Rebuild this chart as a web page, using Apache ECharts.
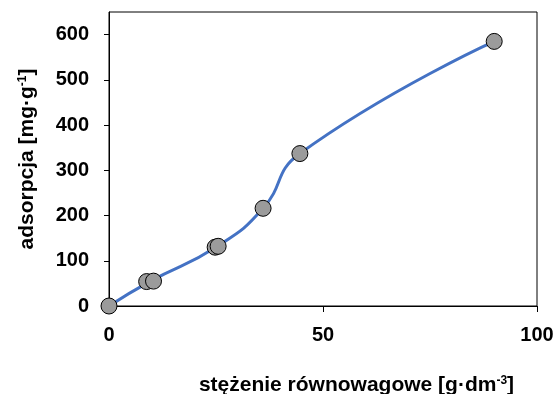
<!DOCTYPE html>
<html>
<head>
<meta charset="utf-8">
<script src="https://cdn.jsdelivr.net/npm/echarts@6/dist/echarts.min.js"></script>
<style>
  html, body { margin: 0; padding: 0; background: #fff; }
  #chart { width: 558px; height: 394px; }
</style>
</head>
<body>
<div id="chart"></div>
<script>
// Equilibrium concentration [g/dm3] and adsorption [mg/g]
const concentration = [0, 8.8, 10.4, 24.8, 25.5, 36.0, 44.6, 90];
const adsorption = [0, 54, 55, 130, 132, 216, 337, 585];
const yTickValues = [0, 100, 200, 300, 400, 500, 600];

const points = concentration.map((c, i) => [c, adsorption[i]]);

// The trend line runs through the measurements; repeated measurements at
// almost the same concentration are averaged so the spline stays smooth.
function mergeClose(pts, tol) {
  const out = [];
  let group = [pts[0]];
  for (let i = 1; i < pts.length; i++) {
    if (pts[i][0] - group[0][0] < tol) {
      group.push(pts[i]);
    } else {
      out.push(avg(group));
      group = [pts[i]];
    }
  }
  out.push(avg(group));
  return out;
}
function avg(g) {
  const n = g.length;
  return [g.reduce((s, p) => s + p[0], 0) / n, g.reduce((s, p) => s + p[1], 0) / n];
}
const trend = mergeClose(points, 2.5);

const font = 'Liberation Sans, Arial, sans-serif';
const supStyle = {
  fontFamily: font, fontSize: 12, fontWeight: 'bold', color: '#000',
  verticalAlign: 'top', padding: [0, 0, 7, 0]
};

const chart = echarts.init(document.getElementById('chart'));
chart.setOption({
  animation: false,
  grid: {
    left: 109, top: 12, right: 21, bottom: 88,
    outerBoundsMode: 'none', containLabel: false,
    show: true, borderColor: '#000', borderWidth: 1, backgroundColor: 'transparent'
  },
  xAxis: {
    type: 'value', min: 0, max: 100, interval: 50,
    name: 'stężenie równowagowe [g·dm{sup|-3}]',
    nameLocation: 'middle', nameGap: 69,
    nameTextStyle: {
      fontFamily: font, fontSize: 21, fontWeight: 'bold', color: '#000',
      padding: [0, 0, 0, 67],
      rich: { sup: supStyle }
    },
    axisLine: { show: true, lineStyle: { color: '#000', width: 1 } },
    axisTick: { show: true, length: 6, lineStyle: { color: '#000' } },
    axisLabel: { margin: 19, fontFamily: font, fontSize: 20, fontWeight: 'bold', color: '#000' },
    splitLine: { show: false }
  },
  yAxis: {
    type: 'value', min: 0, max: 650, interval: 100,
    name: 'adsorpcja [mg·g{sup|-1}]',
    nameLocation: 'middle', nameGap: 71,
    nameTextStyle: {
      fontFamily: font, fontSize: 21, fontWeight: 'bold', color: '#000',
      rich: { sup: supStyle }
    },
    axisLine: { show: true, lineStyle: { color: '#000', width: 1 } },
    axisTick: { show: true, length: 5, inside: false, customValues: yTickValues, lineStyle: { color: '#000' } },
    axisLabel: { margin: 20, customValues: yTickValues, fontFamily: font, fontSize: 20, fontWeight: 'bold', color: '#000' },
    splitLine: { show: false }
  },
  series: [
    {
      type: 'line', data: trend, smooth: 0.5, showSymbol: false,
      lineStyle: { color: '#4472C4', width: 3 }, z: 2
    },
    {
      type: 'scatter', data: points, symbol: 'circle', symbolSize: 16,
      itemStyle: { color: '#9b9b9b', borderColor: '#000', borderWidth: 1, opacity: 1 }, z: 3
    }
  ]
});
</script>
</body>
</html>
